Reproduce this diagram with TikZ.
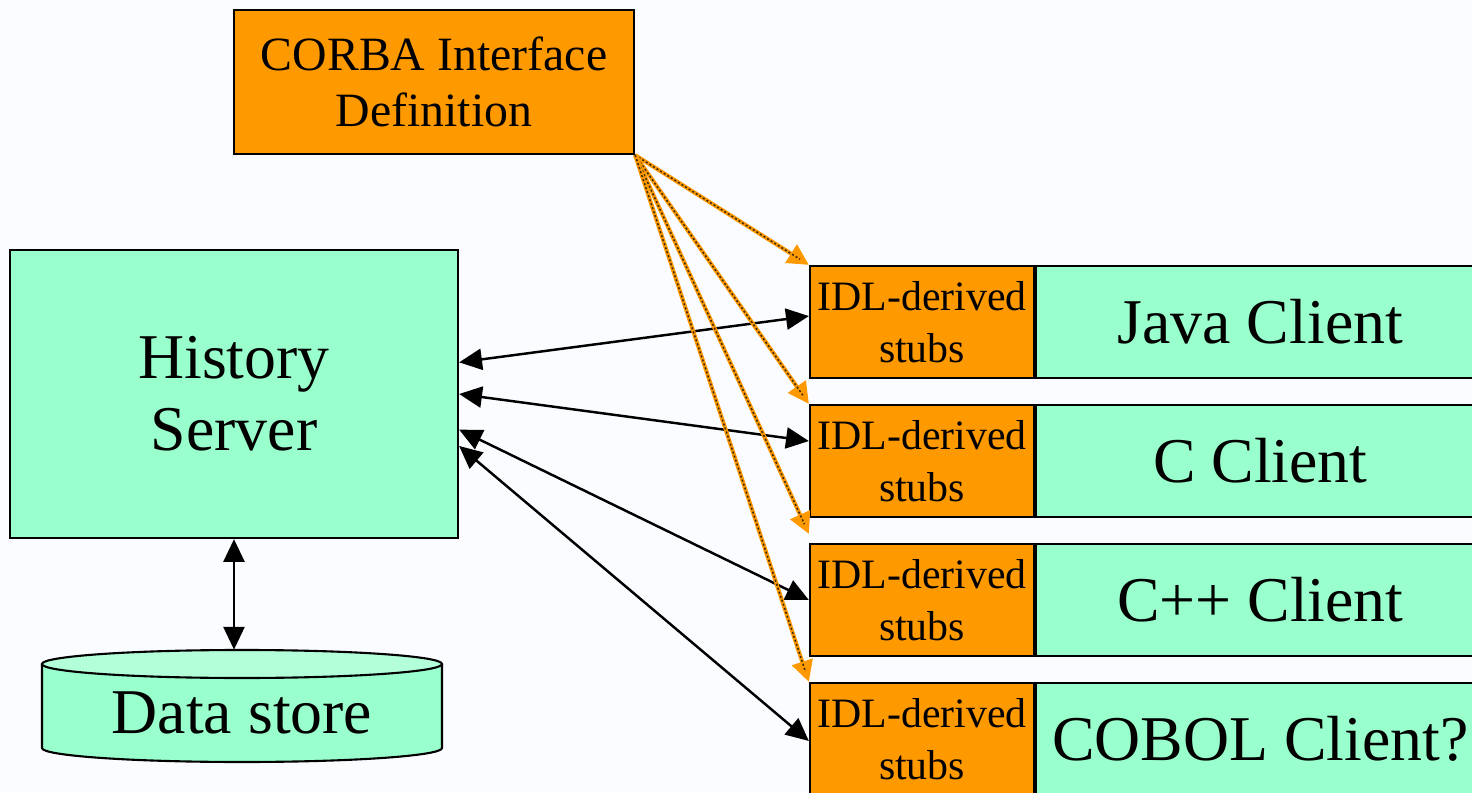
\documentclass[tikz,border=0pt]{standalone}
\usepackage{fontspec}
\setmainfont{Liberation Serif}
\newfontfamily\timesfont{Liberation Serif}
\usetikzlibrary{arrows.meta, positioning, calc}
\definecolor{mint}{RGB}{153,255,204}
\definecolor{idlorange}{RGB}{255,153,0}
\definecolor{paper}{RGB}{250,252,255}
\definecolor{hatch}{RGB}{70,45,10}
\tikzset{>={Triangle[length=13pt,width=12pt]}}
\tikzset{
  every node/.style={font=\timesfont},
  box/.style={draw, line width=1.3pt, inner sep=1pt, align=center},
  stub/.style={box, fill=idlorange, minimum width=4.48cm, minimum height=2.24cm, font=\timesfont\fontsize{23.8}{29.5}\selectfont},
  client/.style={box, fill=mint, minimum width=8.96cm, minimum height=2.24cm, font=\timesfont\fontsize{36.3}{40}\selectfont},
  link/.style={<->, line width=1.4pt},
  gen/.style={-{Triangle[length=12pt,width=12pt,fill=idlorange]}, draw=idlorange, line width=2.3pt,
    postaction={draw=hatch, -, line width=0.9pt, dash pattern=on 1.2pt off 1.2pt, shorten >=6pt}}
}

\begin{document}
\begin{tikzpicture}
        \fill[paper] (0,0) rectangle (29.44,15.84);
        \useasboundingbox (0,0) rectangle (29.44,15.84);

        \node[box, fill=idlorange, minimum width=8cm, minimum height=2.88cm, font=\timesfont\fontsize{27.2}{31.7}\selectfont] (I) at (8.68,14.2) {CORBA Interface\\Definition};
        \node[box, fill=mint, minimum width=8.96cm, minimum height=5.76cm, font=\timesfont\fontsize{36.3}{40.8}\selectfont] (S) at (4.68,7.96) {History\\Server};

        % data store drum
        \draw[line width=1.2pt, fill=mint] (0.84,2.56) -- (0.84,0.88) arc[start angle=180, end angle=360, x radius=4, y radius=0.28] -- (8.84,2.56);
        \draw[line width=1.2pt, fill=mint!75!white] (4.84,2.56) ellipse[x radius=4, y radius=0.28];
        \node[minimum width=8cm, minimum height=2.52cm, inner sep=0pt, font=\timesfont\fontsize{36.3}{40}\selectfont] (D) at (4.84,1.58) {Data store};

        \node[stub] (s1) at (18.44,9.40) {IDL-derived\\stubs};
        \node[stub] (s2) at (18.44,6.62) {IDL-derived\\stubs};
        \node[stub] (s3) at (18.44,3.84) {IDL-derived\\stubs};
        \node[stub] (s4) at (18.44,1.06) {IDL-derived\\stubs};
        \node[client, right=0pt of s1] (c1) {Java Client};
        \node[client, right=0pt of s2] (c2) {C Client};
        \node[client, right=0pt of s3] (c3) {C++ Client};
        \node[client, right=0pt of s4] (c4) {COBOL Client?};

        \draw[link] (S.8) -- (s1.177);
        \draw[link] (S.0) -- (s2.170);
        \draw[link] (S.-9) -- (s3.180);
        \draw[link] (S.-13) -- (s4.181);
        \draw[link] (S.south) -- (S.south |- D.north);

        \draw[gen] (I.south east) -- (s1.north west);
        \draw[gen] (I.south east) -- (s2.north west);
        \draw[gen] (I.south east) -- ($(s3.north west)+(0,0.18)$);
        \draw[gen] (I.south east) -- (s4.north west);
\end{tikzpicture}
\end{document}
